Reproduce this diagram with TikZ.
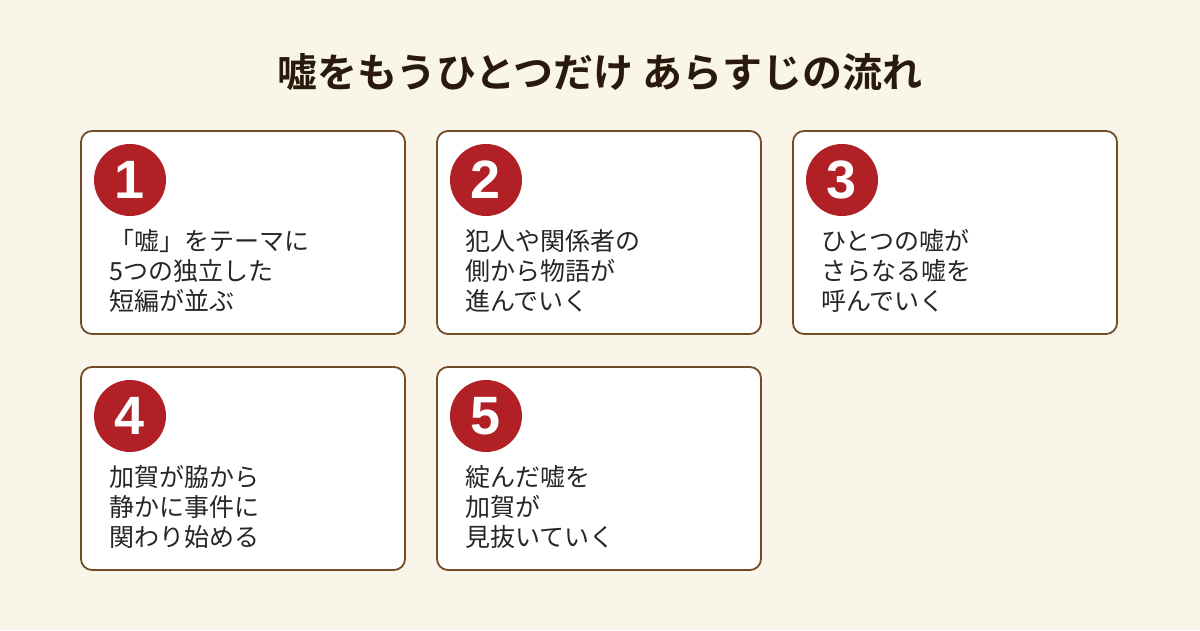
\documentclass[tikz,border=0pt]{standalone}
\usepackage{fontspec}
\setmainfont{Noto Sans CJK JP}[BoldFont={Noto Sans CJK JP Bold}]
\newfontfamily\numfont{Liberation Sans}
\begin{document}
\begin{tikzpicture}[x=1pt,y=1pt,
  card/.style={draw=brown!60!black,line width=1.8pt,fill=white,rounded corners=11pt},
  num/.style={circle,fill=numred,minimum size=72pt,inner sep=0,text=white,font=\numfont\fontsize{54}{54}\selectfont\bfseries},
  txt/.style={anchor=north west,inner sep=0,align=left,text=black!85,font=\fontsize{25}{30}\selectfont}]
\definecolor{bg}{HTML}{FAF5E9}
\definecolor{ttl}{HTML}{2A1A0C}
\definecolor{numred}{HTML}{B02025}
\fill[bg] (0,0) rectangle (1200,630);
\useasboundingbox (0,0) rectangle (1200,630);
\node[text=ttl,font=\fontsize{40}{40}\selectfont\bfseries] (t) at (600,558) {嘘をもうひとつだけ あらすじの流れ};
\foreach \i/\x/\y/\tx in {1/81/131/{「嘘」をテーマに\\5つの独立した\\短編が並ぶ},
  2/437/131/{犯人や関係者の\\側から物語が\\進んでいく},
  3/793/131/{ひとつの嘘が\\さらなる嘘を\\呼んでいく},
  4/81/367/{加賀が脇から\\静かに事件に\\関わり始める},
  5/437/367/{綻んだ嘘を\\加賀が\\見抜いていく}}{
  \draw[card] (\x,630-\y) rectangle (\x+324,630-\y-203);
  \node[num] (n\i) at (\x+49,630-\y-49) {\i};
  \node[txt] (c\i) at (\x+28,630-\y-98) {\tx};
}
\end{tikzpicture}
\end{document}
